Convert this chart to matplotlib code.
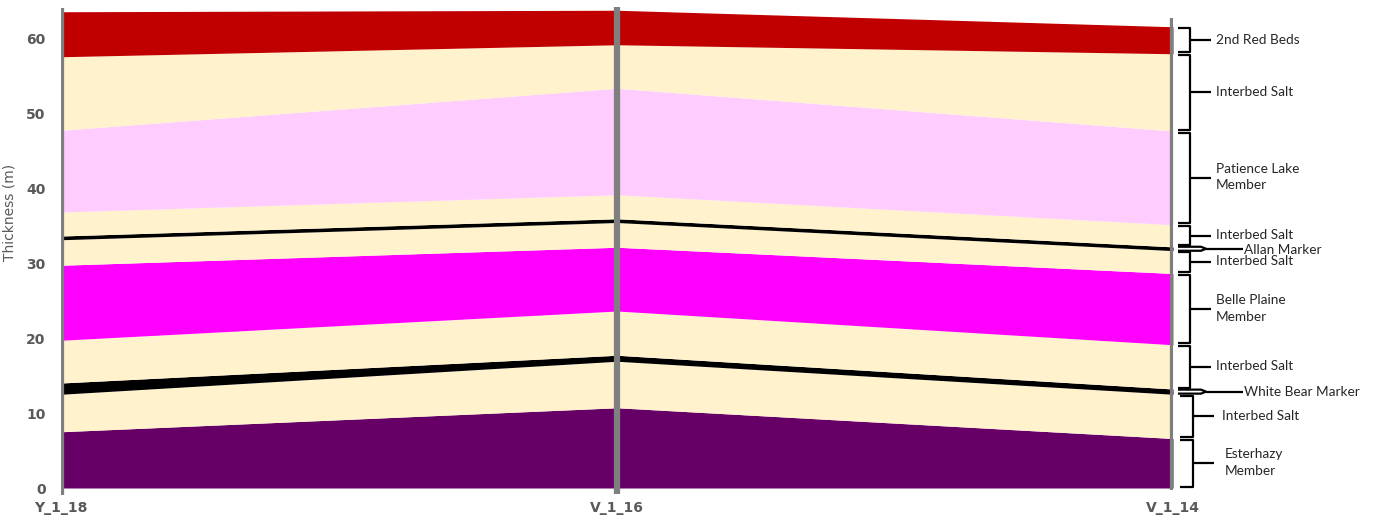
import matplotlib
matplotlib.use("Agg")
import matplotlib.pyplot as plt
import numpy as np

# ---- data ----
wells = ["Y_1_18", "V_1_16", "V_1_14"]
layer_names = ["Esterhazy Member", "Interbed Salt", "White Bear Marker", "Interbed Salt",
               "Belle Plaine Member", "Interbed Salt", "Allan Marker", "Interbed Salt",
               "Patience Lake Member", "Interbed Salt", "2nd Red Beds"]
# thickness (m) of each layer, bottom to top, per well
thick_Y_1_18 = [7.5, 5.0, 1.5, 5.7, 10.0, 3.4, 0.5, 3.2, 10.9, 9.8, 6.0]
thick_V_1_16 = [10.7, 6.2, 0.8, 5.9, 8.5, 3.3, 0.5, 3.2, 14.2, 5.8, 4.6]
thick_V_1_14 = [6.6, 5.9, 0.7, 5.9, 9.5, 3.05, 0.5, 2.95, 12.5, 10.3, 3.6]
layer_colors = ["#660066", "#FFF2CC", "#000000", "#FFF2CC", "#FF00FF", "#FFF2CC",
                "#000000", "#FFF2CC", "#FFCCFF", "#FFF2CC", "#C00000"]
yticks = [0, 10, 20, 30, 40, 50, 60]
well_top = [64.0, 64.1, 62.7]
well_bot = [-0.9, -0.8, -0.3]

# bracket labels (right side): layer indices covered, text
brackets = [
    ([10], "2nd Red Beds"),
    ([9], "Interbed Salt"),
    ([8], "Patience Lake\nMember"),
    ([7], "Interbed Salt"),
    ([5], "Interbed Salt"),
    ([4], "Belle Plaine\nMember"),
    ([3], "Interbed Salt"),
    ([1], "Interbed Salt"),
    ([0], "Esterhazy\nMember"),
]
markers = [(6, "Allan Marker"), (2, "White Bear Marker")]

# ---- figure ----
W, H = 1375, 520
fig = plt.figure(figsize=(W / 100, H / 100), dpi=100)
ax_l, ax_r, ax_t, ax_b = 61, 1173, 5, 495
ax = fig.add_axes([ax_l / W, (H - ax_b) / H, (ax_r - ax_l) / W, (ax_b - ax_t) / H])
ax.set_xlim(0, 2)
ax.set_ylim(-0.933, 64.4)
for s in ax.spines.values():
    s.set_visible(False)

x = np.arange(len(wells))
T = np.array([thick_Y_1_18, thick_V_1_16, thick_V_1_14])  # wells x layers
cum = np.concatenate([np.zeros((3, 1)), np.cumsum(T, axis=1)], axis=1)
for i, c in enumerate(layer_colors):
    ax.fill_between(x, cum[:, i], cum[:, i + 1], color=c, lw=0, zorder=2)

ax.vlines(x, well_bot, well_top, color="#7f7f7f", lw=4.5, zorder=5)

ax.set_yticks(yticks)
ax.set_yticklabels([str(v) for v in yticks], fontsize=10, color="#595959", fontweight="bold")
ax.set_xticks(x)
ax.set_xticklabels(wells, fontsize=10, color="#595959", fontweight="bold")
ax.tick_params(axis="y", length=0, pad=11)
ax.tick_params(axis="x", length=0, pad=4)
ax.set_ylabel("Thickness (m)", fontsize=10, color="#595959")
ax.yaxis.set_label_coords((17 - ax_l) / (ax_r - ax_l), (ax_b - 212) / (ax_b - ax_t))

# ---- brackets ----
def X(px):
    return (px - ax_l) / (ax_r - ax_l) * 2

pxm = (64.4 + 0.933) / (ax_b - ax_t)  # data units per pixel (y)
right = cum[2]
kw = dict(color="black", lw=1.6, clip_on=False, zorder=6, solid_capstyle="butt")
tfont = dict(fontsize=9.8, color="#262626", family="Lato", va="center", ha="left")

for idx, label in brackets:
    lo = right[min(idx)] + 0.2
    hi = right[max(idx) + 1] - 0.2
    lower = min(idx) <= 1
    xb = X(1193) if lower else X(1190)
    hook = X(1178) if not lower else X(1180)
    tip = X(1211) if not lower else X(1214)
    mid = (lo + hi) / 2
    ax.plot([hook, xb, xb, hook], [hi, hi, lo, lo], **kw)
    ax.plot([xb, tip], [mid, mid], **kw)
    tx = X(1216) if not lower else (X(1222) if min(idx) == 1 else X(1225))
    ax.text(tx, mid + 0.1, label, linespacing=1.45, **tfont)

for idx, label in markers:
    y = (right[idx] + right[idx + 1]) / 2
    d = 2 * pxm
    ax.plot([X(1178), X(1201), X(1206), X(1201), X(1178)],
            [y + d, y + d, y, y - d, y - d], **kw)
    ax.plot([X(1206), X(1243)], [y, y], **kw)
    ax.text(X(1244), y - 0.1, label, **tfont)

fig.savefig("out.png", dpi=100)
